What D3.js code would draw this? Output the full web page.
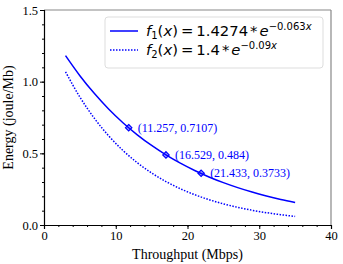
<!DOCTYPE html>
<html lang="en">
<head>
<meta charset="UTF-8">
<title>Energy vs Throughput</title>
<script src="https://d3js.org/d3.v7.min.js"></script>
<style>
  body { margin: 0; background: white; }
  .tick text { font-family: "Liberation Serif", serif; font-size: 12.5px; fill: #000; }
  .lbl { font-family: "Liberation Serif", serif; font-size: 14px; fill: #000; }
  .ann { font-family: "Liberation Serif", serif; font-size: 12px; fill: #0000ff; }
  .leg { font-family: "DejaVu Sans", sans-serif; font-size: 14.8px; fill: #000; }
</style>
</head>
<body>
<svg id="chart" width="343" height="264"></svg>
<script>
// data
const xs = [3, 5, 7, 9, 11, 13, 15, 17, 19, 21, 23, 25, 27, 29, 31, 33, 35];
const f1 = [1.1816, 1.0417, 0.9184, 0.8096, 0.7138, 0.6293, 0.5548, 0.4891, 0.4312,
            0.3802, 0.3352, 0.2955, 0.2605, 0.2296, 0.2025, 0.1785, 0.1574];
const f2 = [1.0688, 0.8926, 0.7456, 0.6228, 0.5202, 0.4346, 0.3629, 0.3031, 0.2532,
            0.2115, 0.1767, 0.1476, 0.1232, 0.1029, 0.0860, 0.0718, 0.0600];
const markX = [11.8, 17.0, 21.9];
const markY = [0.679, 0.489, 0.361];
const markLabels = ["(11.257, 0.7107)", "(16.529, 0.484)", "(21.433, 0.3733)"];
const xTicks = [0, 10, 20, 30, 40];
const yTicks = [0.0, 0.5, 1.0, 1.5];

const width = 343, height = 264;
const margin = { top: 10, right: 12, bottom: 39, left: 44 };
const svg = d3.select("#chart");

const x = d3.scaleLinear().domain([0, 40]).range([margin.left, width - margin.right]);
const y = d3.scaleLinear().domain([0, 1.5]).range([height - margin.bottom, margin.top]);

// frame: top/right grey
svg.append("line").attr("x1", x(0)).attr("x2", x(40)).attr("y1", y(1.5)).attr("y2", y(1.5))
  .attr("stroke", "#888").attr("stroke-width", 1.2);
svg.append("line").attr("x1", x(40)).attr("x2", x(40)).attr("y1", y(0)).attr("y2", y(1.5))
  .attr("stroke", "#888").attr("stroke-width", 1.2);

// axes (major + minor ticks)
svg.append("g").attr("transform", `translate(0,${y(0)})`)
  .call(d3.axisBottom(x).tickValues(xTicks).tickFormat(d3.format("d")).tickSize(4).tickPadding(2));
svg.append("g").attr("transform", `translate(0,${y(0)})`)
  .call(d3.axisBottom(x).tickValues(d3.range(0, 41, 2)).tickFormat("").tickSize(2))
  .select(".domain").remove();
svg.append("g").attr("transform", `translate(${x(0)},0)`)
  .call(d3.axisLeft(y).tickValues(yTicks).tickFormat(d3.format(".1f")).tickSize(4).tickPadding(2));
svg.append("g").attr("transform", `translate(${x(0)},0)`)
  .call(d3.axisLeft(y).tickValues(d3.range(0, 16).map(d => d / 10)).tickFormat("").tickSize(2))
  .select(".domain").remove();
svg.selectAll(".domain").attr("stroke-width", 1.2);

// curves
const line = d3.line().x(d => x(d[0])).y(d => y(d[1])).curve(d3.curveMonotoneX);
svg.append("path").datum(xs.map((v, i) => [v, f1[i]])).attr("d", line)
  .attr("fill", "none").attr("stroke", "#0000ff").attr("stroke-width", 1.5);
svg.append("path").datum(xs.map((v, i) => [v, f2[i]])).attr("d", line)
  .attr("fill", "none").attr("stroke", "#0000ff").attr("stroke-width", 1.5)
  .attr("stroke-dasharray", "1.5,1.5");

// markers + annotations
const sym = d3.symbol().type(d3.symbolDiamond2).size(26);
markX.forEach((mx, i) => {
  svg.append("path").attr("d", sym)
    .attr("transform", `translate(${x(mx)},${y(markY[i])})`)
    .attr("fill", "#0000ff").attr("fill-opacity", 0.35).attr("stroke", "#0000ff").attr("stroke-width", 1.2);
  svg.append("text").attr("class", "ann")
    .attr("x", x(mx) + 9).attr("y", y(markY[i]) + 4)
    .text(markLabels[i]);
});

// axis labels
svg.append("text").attr("class", "lbl").attr("text-anchor", "middle")
  .attr("x", (x(0) + x(40)) / 2).attr("y", height - 5)
  .text("Throughput (Mbps)");
svg.append("text").attr("class", "lbl").attr("text-anchor", "middle")
  .attr("transform", `translate(13,${(y(0) + y(1.5)) / 2}) rotate(-90)`)
  .text("Energy (joule/Mb)");

// legend
const lg = svg.append("g");
lg.append("rect").attr("x", 105).attr("y", 17).attr("width", 218).attr("height", 51)
  .attr("rx", 3).attr("fill", "white").attr("stroke", "#ddd").attr("stroke-width", 1);
const legendRows = [
  { sub: "1", num: "1.4274", exp: "−0.063", dash: null },
  { sub: "2", num: "1.4", exp: "−0.09", dash: "1.5,1.5" }
];
legendRows.forEach((r, i) => {
  const cy = 31 + i * 19;
  lg.append("line").attr("x1", 110).attr("x2", 138).attr("y1", cy).attr("y2", cy)
    .attr("stroke", "#0000ff").attr("stroke-width", 1.5)
    .attr("stroke-dasharray", r.dash);
  const t = lg.append("text").attr("class", "leg").attr("x", 146).attr("y", cy + 5);
  t.append("tspan").attr("font-style", "italic").text("f");
  t.append("tspan").attr("font-size", 10).attr("dy", 3).text(r.sub);
  t.append("tspan").attr("dy", -3).text("(");
  t.append("tspan").attr("font-style", "italic").text("x");
  t.append("tspan").text(")");
  t.append("tspan").attr("dx", 3).text("=");
  t.append("tspan").attr("dx", 3).text(r.num);
  t.append("tspan").attr("dx", 2).text("*");
  t.append("tspan").attr("dx", 2).attr("font-style", "italic").text("e");
  t.append("tspan").attr("font-size", 10).attr("dy", -6).text(r.exp);
  t.append("tspan").attr("font-size", 10).attr("font-style", "italic").text("x");
});
</script>
</body>
</html>
